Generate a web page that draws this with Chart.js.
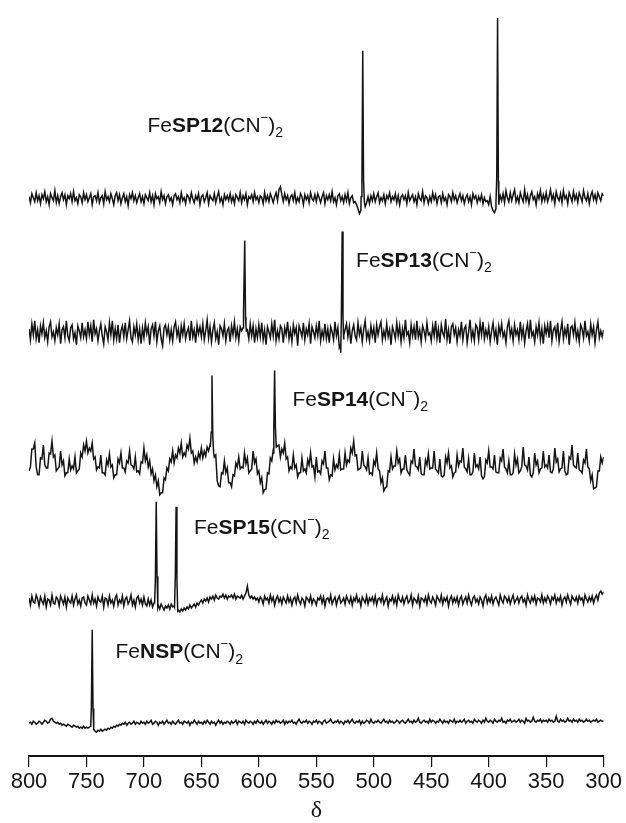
<!DOCTYPE html>
<html>
<head>
<meta charset="utf-8">
<script src="https://cdn.jsdelivr.net/npm/chart.js@4.4.1/dist/chart.umd.min.js"></script>
<style>
html,body{margin:0;padding:0;background:#ffffff;}
#wrap{width:626px;height:823px;position:relative;}
</style>
</head>
<body>
<div id="wrap"><canvas id="c"></canvas></div>
<script>
// ---------- DATA ----------
// chemical shift grid: from 800 down to 300 ppm, 1.25 ppm per sample
const shiftStart = 800;
const shiftStep = 1.25;
const tickValues = [800, 750, 700, 650, 600, 550, 500, 450, 400, 350, 300];
const axisTitle = 'δ';

const compoundCores = ['SP12', 'SP13', 'SP14', 'SP15', 'NSP'];

// baseline noise (intensity units), 20 samples per row
const sp12Noise = [
  2,-4,5,1,-3,6,-2,3,-5,4,0,7,-3,2,-6,5,1,-2,8,-4,
  3,-5,2,6,-1,4,-6,3,0,5,-3,7,-2,1,-5,4,2,-4,6,-1,
  4,-3,1,5,-6,2,3,-2,6,-4,1,3,-5,7,-1,2,-3,5,0,-6,
  3,6,-2,4,-5,1,5,-3,2,-7,4,0,6,-2,3,-4,1,5,-3,2,
  -5,4,1,-2,6,-3,3,-6,5,0,2,-4,7,-1,3,-5,2,4,-2,1,
  -6,3,5,-1,2,-4,6,-2,1,-5,4,2,-3,6,0,-4,3,-1,5,-6,
  2,4,-3,1,6,-5,3,0,-2,5,-4,2,7,-3,1,-6,4,-1,3,-2,
  5,-3,2,-5,4,1,-2,6,-4,3,-1,5,-6,2,0,4,-3,6,-1,2,
  -4,3,1,-5,6,-2,3,-3,5,1,-4,2,6,-2,9,12,4,-3,5,-1,
  3,-5,2,4,-2,6,-4,1,-3,5,2,-6,4,-1,3,-4,6,0,-2,4,
  -3,5,1,-4,2,6,-5,3,-1,4,-2,7,-3,1,-6,3,5,-2,2,-4,
  4,-2,6,-5,1,3,-4,-3,-6,-10,-15,-12,0,0,-8,-4,2,-5,3,-2,
  5,-3,2,6,-4,1,-2,4,-5,3,0,6,-3,2,-1,5,-4,3,-6,2,
  4,-1,3,-5,6,-2,1,4,-3,2,-6,5,0,-2,7,-4,3,1,-5,2,
  -3,6,-1,4,-5,2,3,-4,5,-2,1,-6,4,2,-3,6,-1,3,-4,1,
  5,-2,3,-5,1,4,-3,2,-6,5,0,3,-4,2,-2,4,-5,1,-3,-2,
  -6,2,-8,-12,-14,-10,0,-6,3,-2,5,-4,8,1,-3,6,-2,4,9,-3,
  2,-4,6,1,-3,9,-2,4,-5,3,7,-1,2,-6,5,0,8,-3,4,-2,
  6,-3,2,9,-1,4,-5,7,1,-2,5,-4,8,0,3,-5,6,2,-3,7,
  -1,4,-4,6,2,-3,8,1,-2,5,-5,3,7,-1,4,-3,6,2,-2,5,
  3
];
const sp13Noise = [
  4,-7,9,-2,12,-6,3,-10,7,-1,10,-5,2,-9,6,11,-4,1,-8,5,
  -2,9,-11,3,6,-5,12,-3,-8,5,8,-6,0,-12,7,2,-5,10,-4,3,
  -6,11,-2,7,-9,13,-1,4,-8,2,9,-3,-11,6,1,-7,10,-2,12,-7,
  4,-6,8,-10,2,7,-4,10,-6,3,12,-5,-9,6,-2,9,-7,4,-11,5,
  -5,10,-1,6,-12,4,8,-3,11,-9,2,7,-6,-13,5,8,-2,6,-7,3,
  -8,6,11,-3,4,-10,7,-2,9,-6,1,5,-8,12,-4,3,-10,8,-1,6,
  -4,9,-7,2,13,-5,6,-9,3,10,-6,1,-12,7,4,-3,9,-8,2,5,
  -9,7,-2,11,-5,4,-8,6,2,5,0,8,3,-6,9,-3,7,-10,4,-5,
  8,-4,10,-7,3,-12,6,1,-5,9,-3,13,-8,2,-6,7,4,-10,5,-2,
  11,-6,3,-9,8,-1,5,-13,7,2,-4,10,-7,4,-2,9,-11,6,1,-5,
  7,-3,12,-8,2,-5,9,-6,4,-10,6,1,-7,11,-3,5,-15,-20,0,-6,
  3,9,-4,6,-11,2,8,-3,-7,10,-2,5,-9,4,12,-6,1,-8,7,-3,
  5,-10,8,-2,6,11,-7,2,-5,9,-4,3,-12,6,1,-6,10,-3,7,-9,
  4,-5,13,-2,1,-10,8,-3,6,-7,12,-4,3,-9,7,2,-6,10,-2,0,
  -8,7,-3,12,-6,4,-10,8,0,-4,14,-7,3,-11,6,9,-2,5,-9,3,
  -3,11,-7,4,7,-10,1,13,-6,2,-8,8,5,-7,10,-2,11,-6,3,-4,
  6,-9,2,10,-5,3,-12,7,-1,9,-4,1,-10,6,12,-3,4,-8,8,-2,
  3,-7,11,-4,5,-10,2,9,-6,13,-3,1,-9,6,-2,10,-7,4,-11,7,
  -1,8,-5,12,-8,3,6,-4,10,-9,2,11,-6,4,-3,9,-12,5,7,-2,
  10,-6,2,-9,8,4,-5,12,-3,1,-8,9,-2,6,-10,3,11,-5,2,-4,
  3
];
const sp14Noise = [
  -4,0,18,18,24,0,-8,-8,9,8,22,2,-1,-1,14,13,26,10,12,-4,
  -2,0,16,2,6,-9,-6,-6,8,-3,1,-2,10,-6,-4,-2,14,10,22,16,
  26,14,19,16,24,8,10,-3,0,-1,12,-6,-6,-8,7,2,13,0,2,-11,
  -8,-8,8,4,14,-1,-1,-5,6,4,16,2,1,-2,10,-5,-4,-7,5,4,
  19,6,12,0,6,-7,-2,-14,-8,-20,-14,-28,-26,-26,-11,-13,-1,-4,8,5,
  16,4,12,9,19,14,24,10,14,11,22,18,29,14,16,4,10,5,14,9,
  19,9,16,11,20,16,22,0,0,10,12,-14,-19,-20,-6,-7,6,-6,-1,-16,
  -16,-20,-8,-9,4,0,10,-2,0,-1,14,3,9,-6,-4,-2,16,4,8,-7,
  -4,-16,-11,-26,-23,-22,-6,-7,9,6,14,0,24,21,22,10,18,14,24,8,
  10,-4,0,-2,12,-1,2,-10,-6,-6,9,-4,-2,-6,7,2,14,0,1,-10,
  10,-5,-4,-7,6,3,16,-1,-1,-13,-8,-9,8,-3,2,-1,12,-3,-2,-2,
  14,2,7,5,19,14,26,11,12,-3,-2,-1,16,2,0,-3,9,-7,-6,-8,
  6,2,14,-2,-4,-16,-11,-24,-21,-20,-4,-5,10,-2,1,1,16,4,8,-6,
  -2,-2,12,-3,-6,-8,6,4,18,1,0,-3,10,-7,-8,-8,7,2,13,-2,
  -1,-1,16,-2,-4,-6,8,-9,-10,-8,10,4,14,-1,1,-10,-6,-5,12,1,
  6,5,19,0,-2,-5,8,-8,-8,-5,14,0,2,-2,10,-9,-12,-10,7,4,
  16,0,0,-2,12,-5,-6,-6,9,6,18,0,-2,-6,6,-8,-8,-6,13,2,
  8,-6,-4,0,20,2,1,-3,10,-8,-10,-6,14,2,6,-6,-2,-1,16,0,
  2,-1,12,-5,-6,-2,19,5,8,-5,-2,-1,16,-4,-8,-7,10,8,22,2,
  0,-1,14,-3,-4,-6,7,4,18,0,-2,-14,-8,-22,-21,-20,-4,-4,10,4,
  10
];
const sp15Noise = [
  3,-4,5,-1,-2,6,2,-5,4,0,-3,5,-6,2,1,-4,6,-2,-3,4,
  2,-5,5,1,-3,4,-6,3,0,-2,5,-4,2,6,-3,1,-5,3,4,-2,
  -4,5,1,-3,6,-2,2,-5,4,0,-1,5,-6,3,2,-4,5,-2,1,-5,
  3,6,-4,1,-2,5,-5,2,4,-3,0,6,-4,1,-6,3,5,-2,2,-4,
  4,-3,-5,2,-4,1,-6,-2,0,0,-4,-8,-3,-6,-9,-5,-7,-4,-8,-3,
  -6,-5,0,0,-9,-11,-8,-10,-7,-9,-6,-8,-4,-7,-5,-3,-6,-2,-4,-1,
  1,-2,2,0,3,-1,4,2,5,1,6,3,2,5,4,7,3,6,2,5,
  4,6,3,7,2,5,4,3,6,2,5,8,15,6,3,5,2,4,1,3,
  -1,4,2,-3,5,1,3,-2,6,0,4,-4,2,5,-1,3,-3,4,1,-2,
  5,-1,3,-4,2,4,-2,6,0,-3,3,1,-5,4,2,-1,5,-3,2,0,
  -4,3,1,5,-2,4,-5,2,3,-1,6,-3,1,4,-4,2,5,-2,0,3,
  -3,5,1,-2,4,-4,3,0,6,-1,2,-5,4,1,-2,5,-3,3,0,4,
  -2,5,-4,2,3,-1,6,-3,1,4,-5,2,0,5,-2,3,-4,6,1,-1,
  4,-3,2,5,-2,0,6,-4,3,1,-2,5,-5,3,2,-1,4,-3,6,0,
  -2,4,1,-4,5,2,-1,6,-3,3,0,4,-5,2,5,-2,3,-1,4,-4,
  2,5,-3,1,4,-2,6,0,-4,3,5,-1,2,-3,4,1,-5,3,6,-2,
  3,-1,5,-3,2,4,0,-4,6,1,-2,5,3,-1,4,-3,2,6,-2,1,
  4,-2,3,5,-1,2,-4,6,1,-2,4,0,5,-3,3,2,-1,6,-2,3,
  -1,5,2,-3,4,1,6,-2,3,0,5,-4,2,4,-1,6,1,-3,5,2,
  0,4,-2,5,1,3,-3,6,2,-1,4,0,5,-2,3,6,1,8,10,7,
  9
];
const nspNoise = [
  0,1,-1,2,1,-1,0,2,1,-1,1,3,2,0,1,4,5,2,1,0,
  1,-1,0,-2,-1,-2,-3,-1,-2,-3,-4,-2,-3,-4,-3,-5,-4,-5,-3,-5,
  -4,-5,-4,-2,0,-3,-8,-9,-7,-8,-6,-8,-7,-6,-7,-5,-6,-4,-5,-3,
  -4,-2,-3,-1,-2,0,-1,1,-2,0,1,-1,0,2,-1,1,0,-1,2,0,
  1,-1,2,0,1,3,-1,0,2,1,-2,1,0,2,-1,1,3,0,1,-1,
  2,0,-1,1,3,0,1,-1,2,1,0,2,-2,1,0,3,1,-1,2,0,
  1,-1,2,0,3,1,-1,2,0,1,-2,1,3,0,2,-1,1,0,2,1,
  -1,2,0,1,3,-1,2,1,0,2,-1,3,1,0,2,1,-1,2,0,3,
  1,0,2,-1,1,3,0,2,1,-1,2,0,3,1,2,0,1,3,-1,2,
  0,2,1,3,0,1,-1,2,4,1,0,2,1,3,0,2,1,-1,2,1,
  3,0,2,1,-1,2,3,0,1,2,4,1,0,2,1,3,0,2,1,-1,
  2,1,3,0,2,4,1,0,2,1,3,-1,2,0,1,3,2,0,4,1,
  0,2,1,3,1,0,2,4,1,2,0,3,1,2,0,1,3,2,0,2,
  3,1,0,2,4,1,2,0,3,1,2,5,1,0,2,3,1,2,0,4,
  1,3,2,0,2,1,4,2,0,3,1,2,0,3,2,1,4,0,2,1,
  3,1,2,4,0,2,3,1,2,0,4,2,1,3,2,0,3,1,5,2,
  1,3,2,0,4,2,1,3,2,5,1,2,0,3,2,4,1,2,3,1,
  2,4,1,3,2,0,5,2,3,1,2,6,2,1,3,2,4,1,3,2,
  3,1,4,2,3,1,2,7,2,1,4,2,3,1,2,5,2,3,1,4,
  2,3,1,4,2,3,1,2,4,2,3,1,2,3,2,4,1,2,3,2,
  2
];

// resonance lines: [shift (ppm), intensity]; centre of each line is the 3rd of every 5
const sp12Peaks = [
  [511.0, 2], [510.3, 20], [509.6, 149], [508.9, 18], [508.2, -3],
  [393.7, -4], [393.0, 22], [392.3, 182], [391.6, 18], [390.9, -2]
];
const sp13Peaks = [
  [613.7, 6], [613.0, 20], [612.3, 93], [611.6, 16], [610.9, 2],
  [528.9, -12], [528.2, 18], [527.5, 102], [526.8, 16], [526.1, -2]
];
const sp14Peaks = [
  [642.2, 20], [641.5, 35], [640.8, 92], [640.1, 32], [639.4, 15],
  [587.7, 15], [587.0, 38], [586.3, 97], [585.6, 40], [584.9, 20]
];
const sp15Peaks = [
  [690.7, -2], [690.0, 25], [689.3, 100], [688.6, 25], [687.9, -6],
  [673.4, -6], [672.7, 25], [672.0, 95], [671.3, 22], [670.6, -10]
];
const nspPeaks = [
  [746.4, -3], [745.7, 18], [745.0, 94], [744.3, 15], [743.6, -6]
];

// ---------- LAYOUT (presentation only) ----------
const traceBaselines = [561, 426, 291, 156, 33];           // vertical stacking offsets
const labelAnchors = [[697, 634], [515.4, 498], [570.8, 358], [656.4, 229], [724.7, 104]];
const peakHalfWindow = 1.0;

const noiseSets = [sp12Noise, sp13Noise, sp14Noise, sp15Noise, nspNoise];
const peakSets = [sp12Peaks, sp13Peaks, sp14Peaks, sp15Peaks, nspPeaks];

function buildTrace(noise, peaks, offset) {
  const centers = [];
  for (let k = 2; k < peaks.length; k += 5) centers.push(peaks[k][0]);
  const pts = [];
  noise.forEach((v, i) => {
    const d = shiftStart - i * shiftStep;
    if (centers.some(c => Math.abs(c - d) < peakHalfWindow)) return;
    pts.push({x: d, y: v + offset});
  });
  peaks.forEach(p => pts.push({x: p[0], y: p[1] + offset}));
  pts.sort((a, b) => b.x - a.x);
  return pts;
}

const datasets = noiseSets.map((n, k) => ({
  label: 'Fe' + compoundCores[k] + '(CN⁻)₂',
  data: buildTrace(n, peakSets[k], traceBaselines[k]),
  borderColor: '#141414',
  borderWidth: 1.5,
  pointRadius: 0,
  fill: false,
  tension: 0
}));

const labelPlugin = {
  id: 'compoundLabels',
  afterDatasetsDraw(chart) {
    const ctx = chart.ctx;
    const xs = chart.scales.x, ys = chart.scales.y;
    ctx.save();
    ctx.fillStyle = '#141414';
    ctx.textBaseline = 'middle';
    ctx.textAlign = 'left';
    compoundCores.forEach((core, k) => {
      let px = xs.getPixelForValue(labelAnchors[k][0]);
      const py = ys.getPixelForValue(labelAnchors[k][1]);
      const parts = [
        {t: 'Fe', f: '21px "Liberation Sans"', dy: 0},
        {t: core, f: 'bold 21px "Liberation Sans"', dy: 0},
        {t: '(CN', f: '21px "Liberation Sans"', dy: 0},
        {t: '−', f: '13px "Liberation Sans"', dy: -8},
        {t: ')', f: '21px "Liberation Sans"', dy: 0},
        {t: '2', f: '14px "Liberation Sans"', dy: 7}
      ];
      parts.forEach(p => {
        ctx.font = p.f;
        ctx.fillText(p.t, px, py + p.dy);
        px += ctx.measureText(p.t).width;
      });
    });
    ctx.restore();
  }
};

new Chart(document.getElementById('c'), {
  type: 'line',
  data: {datasets},
  plugins: [labelPlugin],
  options: {
    responsive: true,
    maintainAspectRatio: false,
    animation: false,
    events: [],
    layout: {padding: {left: 29, right: 19, top: 0, bottom: 0}},
    plugins: {legend: {display: false}, tooltip: {enabled: false}, title: {display: false}},
    scales: {
      x: {
        type: 'linear',
        reverse: true,
        min: 300,
        max: 800,
        afterBuildTicks: (scale) => { scale.ticks = tickValues.map(v => ({value: v})); },
        grid: {drawOnChartArea: false, drawTicks: true, tickLength: 11, color: '#141414', lineWidth: 1.2},
        border: {display: true, color: '#141414', width: 2},
        ticks: {
          color: '#141414',
          font: {family: '"Liberation Sans"', size: 22, lineHeight: 1},
          padding: 4,
          maxRotation: 0,
          autoSkip: false
        },
        title: {
          display: true,
          text: axisTitle,
          color: '#141414',
          font: {family: '"Liberation Serif"', size: 24, lineHeight: 1},
          padding: {top: 2, bottom: 0}
        }
      },
      y: {display: false, min: 0, max: 761}
    }
  }
});
</script>
</body>
</html>
